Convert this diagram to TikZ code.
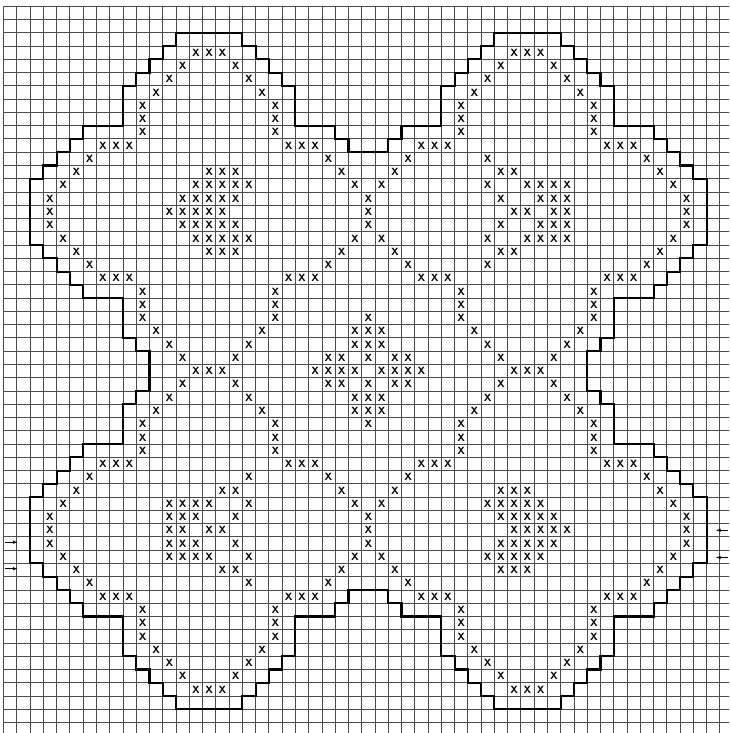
\documentclass[tikz,border=0pt]{standalone}
\begin{document}
\begin{tikzpicture}[>=latex, x=13.265pt, y=-13.265pt,
    gridline/.style={line width=0.85pt, black!70},
    outline/.style={line width=2.1pt, black},
    stitch/.style={inner sep=0pt, black, font=\sffamily\bfseries\fontsize{10.5}{10.5}\selectfont}]
    % 1. Khung và lưới ô
    \useasboundingbox (-3.56pt,6.27pt) rectangle (725.44pt,-726.73pt);
    \clip (-3.56pt,6.27pt) rectangle (725.44pt,-726.73pt);
    \foreach \i in {0,...,55} {
        \draw[gridline] (\i,0) -- (\i,55);
        \draw[gridline] (0,\i) -- (55,\i);
    }

    % 2. Đường viền (một phần tư, lấy đối xứng)
    \foreach \sx/\sy in {1/1,-1/1,1/-1,-1/-1}
        \draw[outline, shift={(27.5,27.5)}, xscale=\sx, yscale=\sy, shift={(-27.5,-27.5)}]
            (11,27.5) -- (11,26) -- (10,26) -- (10,25) -- (9,25) -- (9,22) -- (6,22)
            -- (6,21) -- (5,21) -- (5,20) -- (4,20) -- (4,19) -- (3,19) -- (3,18)
            -- (2,18) -- (2,13) -- (3,13) -- (3,12) -- (4,12) -- (4,11) -- (5,11)
            -- (5,10) -- (6,10) -- (6,9) -- (9,9) -- (9,6) -- (10,6) -- (10,5)
            -- (11,5) -- (11,4) -- (12,4) -- (12,3) -- (13,3) -- (13,2) -- (18,2)
            -- (18,3) -- (19,3) -- (19,4) -- (20,4) -- (20,5) -- (21,5) -- (21,6)
            -- (22,6) -- (22,9) -- (25,9) -- (25,10) -- (26,10) -- (26,11) -- (27.5,11);

    % 3. Các dấu X (nửa trên, xoay 180 độ cho nửa dưới)
    \foreach \r/\cols in {3/{14,15,16,38,39,40}, 4/{13,17,37,41}, 5/{12,18,36,42},
        6/{11,19,35,43}, 7/{10,20,34,44}, 8/{10,20,34,44}, 9/{10,20,34,44},
        10/{7,8,9,21,22,23,31,32,33,45,46,47}, 11/{6,24,30,36,48},
        12/{5,15,16,17,25,29,37,38,49},
        13/{4,14,15,16,17,18,26,28,36,39,40,41,42,50},
        14/{3,13,14,15,16,17,27,37,40,41,42,51},
        15/{3,12,13,14,15,16,27,38,39,41,42,51},
        16/{3,13,14,15,16,17,27,37,40,41,42,51},
        17/{4,14,15,16,17,18,26,28,36,39,40,41,42,50},
        18/{5,15,16,17,25,29,37,38,49}, 19/{6,24,30,36,48},
        20/{7,8,9,21,22,23,31,32,33,45,46,47}, 21/{10,20,34,44}, 22/{10,20,34,44},
        23/{10,20,27,34,44}, 24/{11,19,26,27,28,35,43}, 25/{12,18,26,27,28,36,42},
        26/{13,17,24,25,27,29,30,37,41}}
        \foreach \c in \cols {
            \node[stitch] (a\r-\c) at (\c+0.5,\r+0.5) {X};
            \node[stitch] (b\r-\c) at (54.5-\c,54.5-\r) {X};
        }
    \foreach \c in {14,15,16,23,24,25,26,28,29,30,31,38,39,40}
        \node[stitch] (m\c) at (\c+0.5,27.5) {X};

    % 4. Mũi tên đánh dấu
    \draw[->, line width=0.6pt] (0.1,40.4) -- (1.05,40.4);
    \draw[->, line width=0.6pt] (0.1,42.4) -- (1.05,42.4);
    \draw[->, line width=0.6pt] (54.6,39.5) -- (53.7,39.5);
    \draw[->, line width=0.6pt] (54.6,41.55) -- (53.7,41.55);
\end{tikzpicture}
\end{document}
